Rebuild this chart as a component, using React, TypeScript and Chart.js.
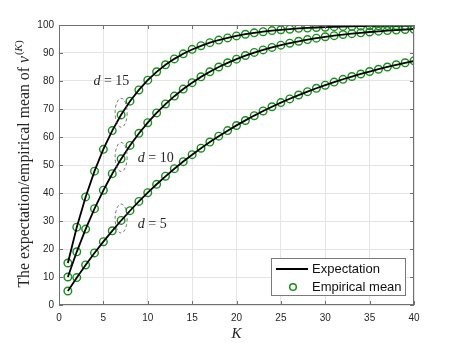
import React, { useEffect, useRef } from "react";
import { Chart, registerables } from "chart.js";

Chart.register(...registerables);

// ---------- data ----------
const kValues = [1, 2, 3, 4, 5, 6, 7, 8, 9, 10, 11, 12, 13, 14, 15, 16, 17, 18, 19, 20,
  21, 22, 23, 24, 25, 26, 27, 28, 29, 30, 31, 32, 33, 34, 35, 36, 37, 38, 39, 40];

const expectationD5 = [5.0, 9.75, 14.26, 18.55, 22.62, 26.49, 30.17, 33.66, 36.98, 40.13,
  43.12, 45.96, 48.67, 51.23, 53.67, 55.99, 58.19, 60.28, 62.26, 64.15,
  65.94, 67.65, 69.26, 70.8, 72.26, 73.65, 74.97, 76.22, 77.41, 78.54,
  79.61, 80.63, 81.6, 82.52, 83.39, 84.22, 85.01, 85.76, 86.47, 87.15];
const expectationD10 = [10.0, 19.0, 27.1, 34.39, 40.95, 46.86, 52.17, 56.95, 61.26, 65.13,
  68.62, 71.76, 74.58, 77.12, 79.41, 81.47, 83.32, 84.99, 86.49, 87.84,
  89.06, 90.15, 91.14, 92.02, 92.82, 93.54, 94.19, 94.77, 95.29, 95.76,
  96.18, 96.57, 96.91, 97.22, 97.5, 97.75, 97.97, 98.18, 98.36, 98.52];
const expectationD15 = [15.0, 27.75, 38.59, 47.8, 55.63, 62.29, 67.94, 72.75, 76.84, 80.31,
  83.27, 85.78, 87.91, 89.72, 91.26, 92.57, 93.69, 94.64, 95.44, 96.12,
  96.71, 97.2, 97.62, 97.98, 98.28, 98.54, 98.76, 98.94, 99.1, 99.24,
  99.35, 99.45, 99.53, 99.6, 99.66, 99.71, 99.76, 99.79, 99.82, 99.85];

const empiricalD5 = [5.0, 9.8, 14.3, 18.6, 22.6, 26.5, 30.2, 33.7, 37.0, 40.1,
  43.1, 46.0, 48.7, 51.2, 53.7, 56.0, 58.2, 60.3, 62.3, 64.1,
  65.9, 67.6, 69.3, 70.8, 72.3, 73.6, 75.0, 76.2, 77.4, 78.5,
  79.6, 80.6, 81.6, 82.5, 83.4, 84.2, 85.0, 85.8, 86.5, 87.2];
const empiricalD10 = [10.0, 19.0, 27.1, 34.4, 41.0, 46.9, 52.2, 57.0, 61.3, 65.1,
  68.6, 71.8, 74.6, 77.1, 79.4, 81.5, 83.3, 85.0, 86.5, 87.8,
  89.1, 90.2, 91.1, 92.0, 92.8, 93.5, 94.2, 94.8, 95.3, 95.8,
  96.2, 96.6, 96.9, 97.2, 97.5, 97.8, 98.0, 98.2, 98.4, 98.5];
const empiricalD15 = [15.0, 27.8, 38.6, 47.8, 55.6, 62.3, 67.9, 72.8, 76.8, 80.3,
  83.3, 85.8, 87.9, 89.7, 91.3, 92.6, 93.7, 94.6, 95.4, 96.1,
  96.7, 97.2, 97.6, 98.0, 98.3, 98.5, 98.8, 98.9, 99.1, 99.2,
  99.4, 99.5, 99.5, 99.6, 99.7, 99.7, 99.8, 99.8, 99.8, 99.9];

const xTickValues = [0, 5, 10, 15, 20, 25, 30, 35, 40];
const yTickValues = [0, 10, 20, 30, 40, 50, 60, 70, 80, 90, 100];

const curveLabels = ["15", "10", "5"];
const seriesLegend = ["Expectation", "Empirical mean"];

// ---------- styles / placement ----------
const AXIS_COLOR = "#707070";
const TEXT_COLOR = "#262626";
const GRID_COLOR = "#e4e4e4";
const MARKER_COLOR = "#17901a";
const SANS = "'Liberation Sans', Arial, sans-serif";
const SERIF = "'Liberation Serif', 'Times New Roman', serif";

// annotation placement in data coordinates (label centre)
const labelPlacement = [
  { k: 5.9, v: 80 },
  { k: 10.9, v: 52.5 },
  { k: 10.5, v: 28.9 },
];
const ellipseK = 7;

const toXY = (ys: number[]) => ys.map((v, i) => ({ x: kValues[i], y: v }));

const decorPlugin = {
  id: "matlabDecor",
  afterDraw(chart: any) {
    const { ctx, chartArea: ca, scales } = chart;
    const xs = scales.x;
    const ys = scales.y;
    ctx.save();

    // box
    ctx.strokeStyle = AXIS_COLOR;
    ctx.lineWidth = 1;
    ctx.strokeRect(Math.round(ca.left) + 0.5, Math.round(ca.top) + 0.5,
      Math.round(ca.right - ca.left) - 1, Math.round(ca.bottom - ca.top) - 1);

    // inward ticks
    ctx.beginPath();
    const tl = 4;
    xTickValues.forEach((v) => {
      const px = Math.round(xs.getPixelForValue(v)) + 0.5;
      ctx.moveTo(px, ca.bottom);
      ctx.lineTo(px, ca.bottom - tl);
      ctx.moveTo(px, ca.top);
      ctx.lineTo(px, ca.top + tl);
    });
    yTickValues.forEach((v) => {
      const py = Math.round(ys.getPixelForValue(v)) + 0.5;
      ctx.moveTo(ca.left, py);
      ctx.lineTo(ca.left + tl, py);
      ctx.moveTo(ca.right, py);
      ctx.lineTo(ca.right - tl, py);
    });
    ctx.stroke();

    // dashed ellipses around K = 7 points
    const ellipseSeries = [expectationD15, expectationD10, expectationD5];
    ctx.setLineDash([3, 2.5]);
    ctx.strokeStyle = "#505050";
    ctx.lineWidth = 0.8;
    ellipseSeries.forEach((s) => {
      const cx = xs.getPixelForValue(ellipseK);
      const cy = ys.getPixelForValue(s[kValues.indexOf(ellipseK)]) - 2;
      ctx.beginPath();
      ctx.ellipse(cx, cy, 6, 14.5, 0, 0, Math.PI * 2);
      ctx.stroke();
    });
    ctx.setLineDash([]);

    // curve labels "d = .."
    ctx.fillStyle = TEXT_COLOR;
    ctx.textBaseline = "middle";
    curveLabels.forEach((lab, i) => {
      const p = labelPlacement[i];
      const cx = xs.getPixelForValue(p.k);
      const cy = ys.getPixelForValue(p.v);
      ctx.font = `italic 14px ${SERIF}`;
      const w1 = ctx.measureText("d").width;
      ctx.font = `14px ${SERIF}`;
      const rest = " = " + lab;
      const w2 = ctx.measureText(rest).width;
      const x0 = cx - (w1 + w2) / 2;
      ctx.font = `italic 14px ${SERIF}`;
      ctx.textAlign = "left";
      ctx.fillText("d", x0, cy);
      ctx.font = `14px ${SERIF}`;
      ctx.fillText(rest, x0 + w1, cy);
    });

    // legend box
    const lx = 271, ly = 258, lw = 134, lh = 37;
    ctx.fillStyle = "#ffffff";
    ctx.fillRect(lx, ly, lw, lh);
    ctx.strokeStyle = "#7a7a7a";
    ctx.lineWidth = 1;
    ctx.strokeRect(lx + 0.5, ly + 0.5, lw, lh);
    ctx.strokeStyle = "#000000";
    ctx.lineWidth = 2;
    ctx.beginPath();
    ctx.moveTo(lx + 5, ly + 11);
    ctx.lineTo(lx + 37, ly + 11);
    ctx.stroke();
    ctx.strokeStyle = MARKER_COLOR;
    ctx.lineWidth = 1.5;
    ctx.beginPath();
    ctx.arc(lx + 22, ly + 29, 3.3, 0, Math.PI * 2);
    ctx.stroke();
    ctx.fillStyle = "#111111";
    ctx.font = `13px ${SANS}`;
    ctx.textAlign = "left";
    ctx.textBaseline = "middle";
    ctx.fillText(seriesLegend[0], lx + 41, ly + 11);
    ctx.fillText(seriesLegend[1], lx + 41, ly + 29);

    // x title
    ctx.fillStyle = TEXT_COLOR;
    ctx.font = `italic 15px ${SERIF}`;
    ctx.textAlign = "center";
    ctx.textBaseline = "alphabetic";
    ctx.fillText("K", (ca.left + ca.right) / 2, 338);

    // y title (rotated) with superscript
    const main = "The expectation/empirical mean of ";
    const fs = 15.8;
    const ss = 11;
    ctx.font = `${fs}px ${SERIF}`;
    const wMain = ctx.measureText(main).width;
    ctx.font = `italic ${fs}px ${SERIF}`;
    const wNu = ctx.measureText("ν").width;
    ctx.font = `${ss}px ${SERIF}`;
    const wPo = ctx.measureText("(").width;
    const wPc = ctx.measureText(")").width;
    ctx.font = `italic ${ss}px ${SERIF}`;
    const wK = ctx.measureText("K").width;
    const total = wMain + wNu + wPo + wK + wPc + 1;
    ctx.translate(29, (ca.top + ca.bottom) / 2 - 1);
    ctx.rotate(-Math.PI / 2);
    ctx.textAlign = "left";
    let x = -total / 2;
    ctx.font = `${fs}px ${SERIF}`;
    ctx.fillText(main, x, 0);
    x += wMain;
    ctx.font = `italic ${fs}px ${SERIF}`;
    ctx.fillText("ν", x, 0);
    x += wNu + 1;
    ctx.font = `${ss}px ${SERIF}`;
    ctx.fillText("(", x, -7);
    x += wPo;
    ctx.font = `italic ${ss}px ${SERIF}`;
    ctx.fillText("K", x, -7);
    x += wK;
    ctx.font = `${ss}px ${SERIF}`;
    ctx.fillText(")", x, -7);

    ctx.restore();
  },
};

export default function App() {
  const ref = useRef<HTMLCanvasElement>(null);

  useEffect(() => {
    if (!ref.current) return;
    const lineDs = (data: number[], label: string) => ({
      label,
      data: toXY(data),
      borderColor: "#000000",
      borderWidth: 1.8,
      pointRadius: 0,
      fill: false,
      tension: 0,
      order: 0,
    });
    const markDs = (data: number[], label: string) => ({
      label,
      data: toXY(data),
      showLine: false,
      pointStyle: "circle",
      pointRadius: 3.8,
      pointBorderWidth: 1.4,
      pointBorderColor: MARKER_COLOR,
      pointBackgroundColor: "rgba(0,0,0,0)",
      order: 1,
    });
    const chart = new Chart(ref.current, {
      type: "line",
      data: {
        datasets: [
          lineDs(expectationD15, "Expectation d=15"),
          lineDs(expectationD10, "Expectation d=10"),
          lineDs(expectationD5, "Expectation d=5"),
          markDs(empiricalD15, "Empirical mean d=15"),
          markDs(empiricalD10, "Empirical mean d=10"),
          markDs(empiricalD5, "Empirical mean d=5"),
        ] as any,
      },
      options: {
        animation: false,
        responsive: false,
        maintainAspectRatio: false,
        layout: { padding: { left: 0, right: 44, top: 25, bottom: 0 } },
        plugins: { legend: { display: false }, tooltip: { enabled: false } },
        scales: {
          x: {
            type: "linear",
            min: 0,
            max: 40,
            afterBuildTicks: (s: any) => {
              s.ticks = xTickValues.map((v) => ({ value: v }));
            },
            afterFit: (s: any) => {
              s.height = 38;
            },
            grid: { color: GRID_COLOR, drawTicks: false, lineWidth: 1 },
            border: { display: false },
            ticks: {
              padding: 7,
              maxRotation: 0,
              autoSkip: false,
              color: TEXT_COLOR,
              font: { family: SANS, size: 10 },
            },
          },
          y: {
            type: "linear",
            min: 0,
            max: 100,
            afterBuildTicks: (s: any) => {
              s.ticks = yTickValues.map((v) => ({ value: v }));
            },
            afterFit: (s: any) => {
              s.width = 59;
            },
            grid: { color: GRID_COLOR, drawTicks: false, lineWidth: 1 },
            border: { display: false },
            ticks: {
              padding: 5,
              autoSkip: false,
              color: TEXT_COLOR,
              font: { family: SANS, size: 10 },
            },
          },
        },
      } as any,
      plugins: [decorPlugin],
    });
    return () => chart.destroy();
  }, []);

  return (
    <div style={{ position: "fixed", left: 0, top: 0, width: 458, height: 343, background: "#fff" }}>
      <canvas ref={ref} width={458} height={343} style={{ display: "block", width: 458, height: 343 }} />
    </div>
  );
}
